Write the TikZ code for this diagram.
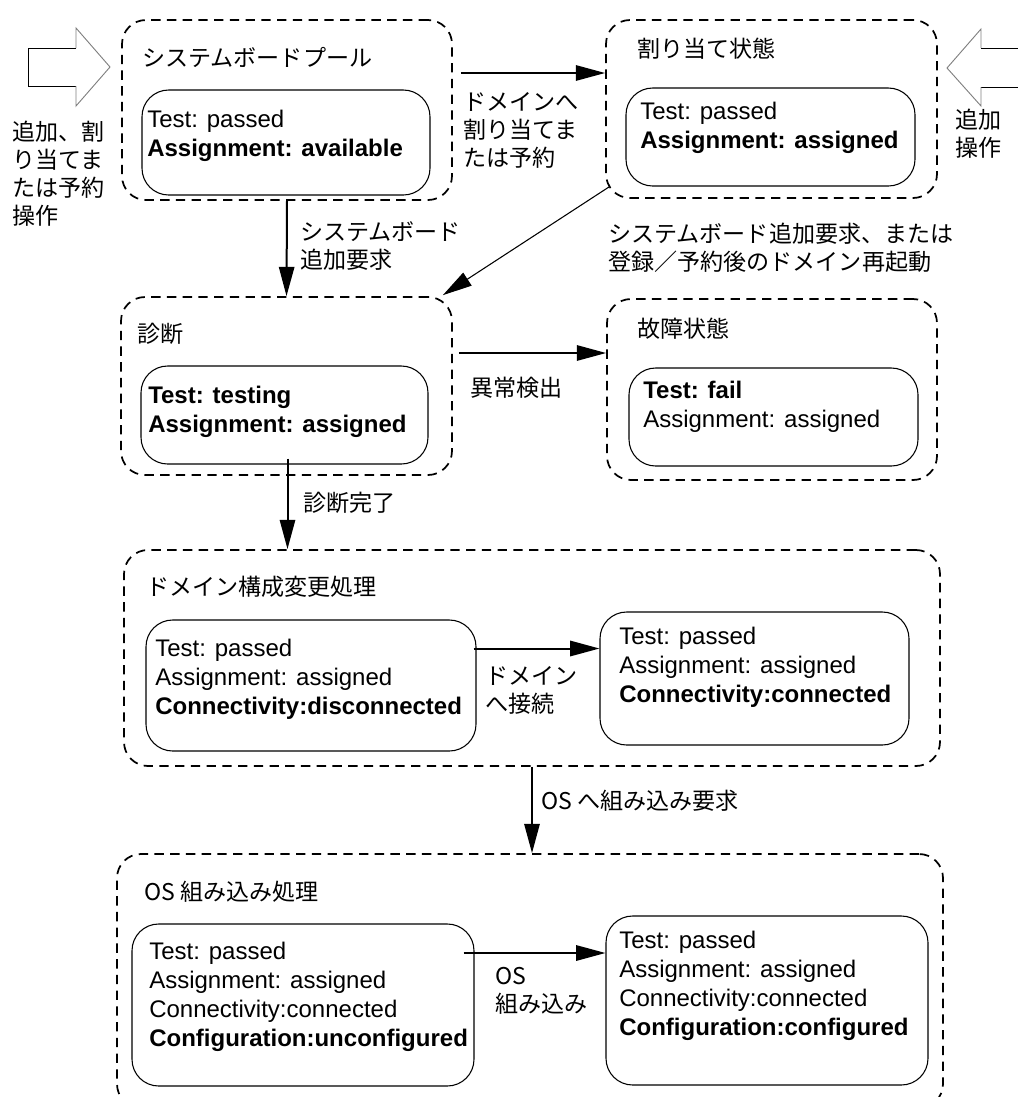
\documentclass[tikz,border=0pt]{standalone}
\usepackage{fontspec}
\setmainfont{Liberation Sans}
\newfontfamily\jp{Noto Sans CJK JP}
\usetikzlibrary{arrows.meta,fit,calc}

\begin{document}
\begin{tikzpicture}[x=0.75pt,y=-0.75pt,
  group/.style={draw, dash pattern=on 7pt off 4.8pt, line width=1.3pt,
    rounded corners=18pt, inner sep=0pt, fit={#1}},
  state/.style={draw, line width=0.8pt, rounded corners=20pt,
    inner sep=0pt, fit={#1}},
  txt/.style={anchor=west, inner sep=0pt, align=left,
    font=\fontsize{18pt}{21.75pt}\selectfont},
  jlab/.style={anchor=west, inner sep=0pt, align=left,
    font=\fontsize{17.3pt}{21pt}\selectfont\jp},
  arr/.style={line width=1.5pt, -{Triangle[length=22pt,width=11.5pt]}},
  thinarr/.style={line width=0.8pt, -{Triangle[length=22pt,width=11.5pt]}},
  hollow/.style={line width=0.7pt, draw=gray},
]
\useasboundingbox (0,0) rectangle (1018,1097);
\clip (0,0) rectangle (1018,1097);

% ---------- state groups ----------
\node[group={(122,20) (452,200)}]  (A) {};
\node[group={(606,20) (937,198)}]  (B) {};
\node[group={(121,297) (452,475)}] (C) {};
\node[group={(607,299) (937,480)}] (D) {};
\node[group={(124,550) (940,766)}] (E) {};
\node[group={(117,854) (943,1108)}] (F) {};

\node[jlab] (tA) at (142,57)  {システムボードプール};
\node[jlab] (tB) at (637,49)  {割り当て状態};
\node[jlab] (tC) at (137,334) {診断};
\node[jlab] (tD) at (637,329) {故障状態};
\node[jlab] (tE) at (146,587) {ドメイン構成変更処理};
\node[jlab] (tF) at (144,892) {OS 組み込み処理};

% ---------- inner state boxes ----------
\node[state={(142,90) (430,195)}]   (a1) {};
\node[state={(626,88) (915,186)}]   (b1) {};
\node[state={(141,366) (428,464)}]  (c1) {};
\node[state={(629,368) (918,466)}]  (d1) {};
\node[state={(146,620) (476,751)}]  (e1) {};
\node[state={(600,612) (909,745)}]  (e2) {};
\node[state={(132,924) (474,1086)}] (f1) {};
\node[state={(606,916) (928,1085)}] (f2) {};

\node[txt] (a1t) at (147,136) {Test: passed\\\textbf{Assignment: available}};
\node[txt] (b1t) at (640,128) {Test: passed\\\textbf{Assignment: assigned}};
\node[txt] (c1t) at (148,412) {\textbf{Test: testing}\\\textbf{Assignment: assigned}};
\node[txt] (d1t) at (643,407) {\textbf{Test: fail}\\Assignment: assigned};
\node[txt] (e1t) at (155,679) {Test: passed\\Assignment: assigned\\\textbf{Connectivity:disconnected}};
\node[txt] (e2t) at (619,667) {Test: passed\\Assignment: assigned\\\textbf{Connectivity:connected}};
\node[txt] (f1t) at (149,997) {Test: passed\\Assignment: assigned\\Connectivity:connected\\\textbf{Configuration:unconfigured}};
\node[txt] (f2t) at (619,986) {Test: passed\\Assignment: assigned\\Connectivity:connected\\\textbf{Configuration:configured}};

% ---------- block arrows for external operations ----------
\draw[line width=0.7pt] (76,48) -- (28,48) -- (28,86) -- (76,86);
\draw[hollow] (76,86) -- (76,106) -- (110,67) -- (76,28) -- (76,48);
\node[jlab] (opL) at (12,174) {追加、割\\り当てま\\たは予約\\操作};

\draw[line width=0.7pt] (981,48) -- (1030,48);
\draw[line width=0.7pt] (981,87) -- (1030,87);
\draw[hollow] (981,48) -- (981,29) -- (947,68) -- (981,106) -- (981,87);
\node[jlab] (opR) at (955,134) {追加\\操作};

% ---------- transitions ----------
\draw[arr] ($(A.east)+(8,-37)$) coordinate (ab) -- (ab -| B.west);
\node[jlab] (lab) at (463,130) {ドメインへ\\割り当てま\\たは予約};

\draw[arr] (A.south) -- (C.north);
\node[jlab] (lac) at (300,246) {システムボード\\追加要求};

\draw[thinarr] ($(B.south west)+(4,-12)$) -- ($(C.north east)+(-10,-1)$);
\node[jlab] (lbc) at (608,248) {システムボード追加要求、または\\登録／予約後のドメイン再起動};

\draw[arr] ($(C.east)+(6,-33)$) coordinate (cd) -- (cd -| D.west);
\node[jlab] (lcd) at (470,388) {異常検出};

\draw[arr] ($(c1.south)+(3,-6)$) coordinate (ce) -- (ce |- E.north);
\node[jlab] (lce) at (303,503) {診断完了};

\draw[arr] ($(e1.east)+(-3,-37)$) coordinate (ee) -- (ee -| e2.west);
\node[jlab] (lee) at (485,690) {ドメイン\\へ接続};

\draw[arr] (E.south) -- (E.south |- F.north);
\node[jlab] (lef) at (541,801) {OS へ組み込み要求};

\draw[arr] ($(f1.east)+(-11,-52)$) coordinate (ff) -- (ff -| f2.west);
\node[jlab] (lff) at (495,991) {OS\\組み込み};
\end{tikzpicture}
\end{document}
